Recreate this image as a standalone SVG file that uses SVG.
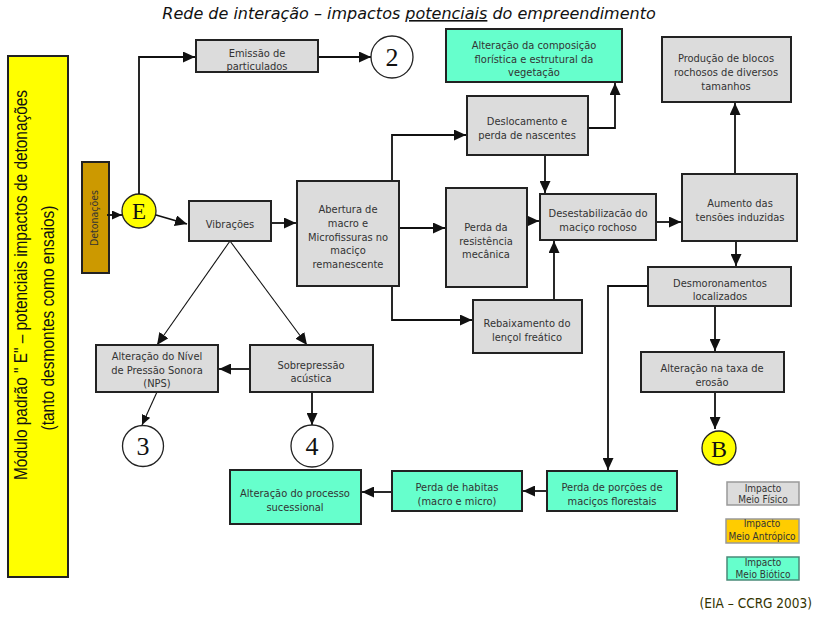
<svg xmlns="http://www.w3.org/2000/svg" width="814" height="617" viewBox="0 0 814 617">
  <style>
    .box { stroke: #222; stroke-width: 2; }
    .fis { fill: #dcdcdc; }
    .bio { fill: #66ffcc; }
    .lbl { font-family: "DejaVu Sans Condensed", "DejaVu Sans", sans-serif; font-size: 11px; fill: #333; text-anchor: middle; }
    .num { font-family: "Liberation Serif", serif; text-anchor: middle; fill: #111; }
    .ref { fill: #fff; stroke: #222; stroke-width: 1.3; }
    .edge { fill: none; stroke: #111; stroke-width: 1.8; marker-end: url(#arrow); }
    .thin { fill: none; stroke: #111; stroke-width: 1.1; marker-end: url(#arrow); }
    .small { marker-end: url(#arrowS); }
    .leg { font-family: "DejaVu Sans Condensed", "DejaVu Sans", sans-serif; font-size: 10px; fill: #333; text-anchor: middle; }
  </style>
  <defs>
    <marker id="arrow" markerUnits="userSpaceOnUse" markerWidth="12" markerHeight="11" refX="12" refY="5.5" orient="auto">
      <path d="M0,0 L12,5.5 L0,11 z" fill="#111"/>
    </marker>
    <marker id="arrowS" markerUnits="userSpaceOnUse" markerWidth="10" markerHeight="9" refX="10" refY="4.5" orient="auto">
      <path d="M0,0 L10,4.5 L0,9 z" fill="#111"/>
    </marker>
  </defs>

  <rect width="814" height="617" fill="#fff"/>

  <!-- title -->
  <text x="409" y="19" font-family="DejaVu Sans, sans-serif" font-style="italic" font-size="16" fill="#111" text-anchor="middle">Rede de interação – impactos <tspan text-decoration="underline">potenciais</tspan> do empreendimento</text>

  <!-- side module banner -->
  <g id="modulo">
    <rect x="8" y="56" width="60" height="521" fill="#ffff00" stroke="#222" stroke-width="2"/>
    <text transform="translate(27,285) rotate(-90)" font-family="Liberation Sans, Arial, sans-serif" font-size="18" fill="#111" text-anchor="middle" textLength="390" lengthAdjust="spacingAndGlyphs">Módulo padrão " E" – potenciais impactos de detonações</text>
    <text transform="translate(54,318) rotate(-90)" font-family="Liberation Sans, Arial, sans-serif" font-size="18" fill="#111" text-anchor="middle" textLength="225" lengthAdjust="spacingAndGlyphs">(tanto desmontes como ensaios)</text>
  </g>

  <g id="detonacoes">
    <rect x="82" y="162" width="27" height="111" fill="#cc9900" stroke="#222" stroke-width="2"/>
    <text transform="translate(98,218) rotate(-90)" font-family="DejaVu Sans Condensed, DejaVu Sans, sans-serif" font-size="10.5" fill="#333" text-anchor="middle">Detonações</text>
  </g>

  <g id="E">
    <circle cx="139" cy="211" r="17" fill="#ffff00" stroke="#222" stroke-width="1.3"/>
    <text class="num" x="139" y="219" font-size="23">E</text>
  </g>

  <!-- connectors -->
  <g id="connectors">
    <path class="edge small" d="M107,215 H122"/>
    <path class="edge" d="M139,194 V57 H195"/>
    <path class="edge" d="M318,57 H371"/>
    <path class="edge" d="M156,215 L187,224"/>
    <path class="edge" d="M271,223 H296"/>
    <path class="thin" d="M230,241 L157,345"/>
    <path class="thin" d="M230,241 L307,345"/>
    <path class="edge" d="M250,369 H219"/>
    <path class="thin small" d="M157,392 L142,425"/>
    <path class="edge" d="M312,392 V425"/>
    <path class="edge" d="M392,181 V135 H466"/>
    <path class="edge" d="M399,228 H445"/>
    <path class="edge" d="M392,286 V320 H472"/>
    <path class="edge" d="M588,128 H615 V83"/>
    <path class="edge" d="M545,155 V193"/>
    <path class="edge" d="M527,221 H539"/>
    <path class="edge" d="M554,300 V241"/>
    <path class="edge" d="M656,222 H681"/>
    <path class="edge" d="M735,174 V103"/>
    <path class="edge" d="M736,241 V266"/>
    <path class="edge" d="M648,286 H608 V470"/>
    <path class="edge" d="M715,306 V351"/>
    <path class="edge" d="M715,392 V429"/>
    <path class="edge" d="M547,491 H523"/>
    <path class="edge" d="M392,492 H362"/>
  </g>

  <!-- nodes -->
  <g id="emissao">
    <rect class="box fis" x="196" y="40" width="122" height="32"/>
    <text class="lbl" x="257" y="57">Emissão de</text>
    <text class="lbl" x="257" y="70">particulados</text>
  </g>
  <g id="ref2">
    <circle class="ref" cx="392" cy="57" r="21"/>
    <text class="num" x="392" y="66" font-size="26">2</text>
  </g>
  <g id="alt-composicao">
    <rect class="box bio" x="446" y="29" width="176" height="53"/>
    <text class="lbl" x="534" y="49">Alteração da composição</text>
    <text class="lbl" x="534" y="63">florística e estrutural da</text>
    <text class="lbl" x="534" y="76">vegetação</text>
  </g>
  <g id="producao">
    <rect class="box fis" x="662" y="37" width="129" height="65"/>
    <text class="lbl" x="726" y="62">Produção de blocos</text>
    <text class="lbl" x="726" y="76">rochosos de diversos</text>
    <text class="lbl" x="726" y="90">tamanhos</text>
  </g>
  <g id="deslocamento">
    <rect class="box fis" x="467" y="96" width="121" height="59"/>
    <text class="lbl" x="527" y="125">Deslocamento e</text>
    <text class="lbl" x="527" y="139">perda de nascentes</text>
  </g>
  <g id="vibracoes">
    <rect class="box fis" x="189" y="201" width="82" height="40"/>
    <text class="lbl" x="230" y="228">Vibrações</text>
  </g>
  <g id="abertura">
    <rect class="box fis" x="297" y="181" width="102" height="105"/>
    <text class="lbl" x="348" y="213">Abertura de</text>
    <text class="lbl" x="348" y="227">macro e</text>
    <text class="lbl" x="348" y="241">Microfissuras no</text>
    <text class="lbl" x="348" y="254">maciço</text>
    <text class="lbl" x="348" y="268">remanescente</text>
  </g>
  <g id="perda-resistencia">
    <rect class="box fis" x="446" y="188" width="81" height="99"/>
    <text class="lbl" x="486" y="231">Perda da</text>
    <text class="lbl" x="486" y="245">resistência</text>
    <text class="lbl" x="486" y="258">mecânica</text>
  </g>
  <g id="rebaixamento">
    <rect class="box fis" x="473" y="300" width="109" height="53"/>
    <text class="lbl" x="527" y="327">Rebaixamento do</text>
    <text class="lbl" x="527" y="341">lençol freático</text>
  </g>
  <g id="desestabilizacao">
    <rect class="box fis" x="540" y="194" width="116" height="46"/>
    <text class="lbl" x="598" y="217">Desestabilizacão do</text>
    <text class="lbl" x="598" y="231">maciço rochoso</text>
  </g>
  <g id="aumento">
    <rect class="box fis" x="682" y="174" width="115" height="67"/>
    <text class="lbl" x="740" y="207">Aumento das</text>
    <text class="lbl" x="740" y="221">tensões induzidas</text>
  </g>
  <g id="desmoronamentos">
    <rect class="box fis" x="648" y="267" width="143" height="39"/>
    <text class="lbl" x="720" y="287">Desmoronamentos</text>
    <text class="lbl" x="720" y="300">localizados</text>
  </g>
  <g id="alt-erosao">
    <rect class="box fis" x="641" y="352" width="143" height="40"/>
    <text class="lbl" x="712" y="372">Alteração na taxa de</text>
    <text class="lbl" x="712" y="386">erosão</text>
  </g>
  <g id="B">
    <circle cx="719" cy="448" r="17" fill="#ffff00" stroke="#222" stroke-width="1.3"/>
    <text class="num" x="719" y="457" font-size="24">B</text>
  </g>
  <g id="nps">
    <rect class="box fis" x="96" y="345" width="122" height="47"/>
    <text class="lbl" x="157" y="360">Alteração do Nível</text>
    <text class="lbl" x="157" y="374">de Pressão Sonora</text>
    <text class="lbl" x="157" y="387">(NPS)</text>
  </g>
  <g id="sobrepressao">
    <rect class="box fis" x="250" y="345" width="123" height="47"/>
    <text class="lbl" x="311" y="369">Sobrepressão</text>
    <text class="lbl" x="311" y="382">acústica</text>
  </g>
  <g id="ref3">
    <circle class="ref" cx="143" cy="446" r="20.5"/>
    <text class="num" x="143" y="455" font-size="26">3</text>
  </g>
  <g id="ref4">
    <circle class="ref" cx="312" cy="446" r="21"/>
    <text class="num" x="312" y="455" font-size="26">4</text>
  </g>
  <g id="perda-porcoes">
    <rect class="box bio" x="547" y="471" width="130" height="40"/>
    <text class="lbl" x="612" y="491">Perda de porções de</text>
    <text class="lbl" x="612" y="505">maciços florestais</text>
  </g>
  <g id="perda-habitas">
    <rect class="box bio" x="392" y="471" width="130" height="40"/>
    <text class="lbl" x="457" y="491">Perda de habitas</text>
    <text class="lbl" x="457" y="505">(macro e micro)</text>
  </g>
  <g id="alt-processo">
    <rect class="box bio" x="230" y="470" width="131" height="54"/>
    <text class="lbl" x="295" y="497">Alteração do processo</text>
    <text class="lbl" x="295" y="511">sucessional</text>
  </g>

  <!-- legend -->
  <g id="legenda">
    <rect x="727" y="482" width="72" height="23" fill="#dcdcdc" stroke="#999" stroke-width="1.5"/>
    <text class="leg" x="763" y="492">Impacto</text>
    <text class="leg" x="763" y="503">Meio Físico</text>
    <rect x="726" y="519" width="73" height="24" fill="#ffcc00" stroke="#999" stroke-width="1.5"/>
    <text class="leg" x="762" y="527">Impacto</text>
    <text class="leg" x="762" y="540">Meio Antrópico</text>
    <rect x="727" y="557" width="72" height="23" fill="#66ffcc" stroke="#4a8a78" stroke-width="1.5"/>
    <text class="leg" x="763" y="566">Impacto</text>
    <text class="leg" x="763" y="578">Meio Biótico</text>
  </g>

  <text x="812" y="608" font-family="DejaVu Sans Condensed, DejaVu Sans, sans-serif" font-size="13.5" fill="#333300" text-anchor="end">(EIA – CCRG 2003)</text>
</svg>
